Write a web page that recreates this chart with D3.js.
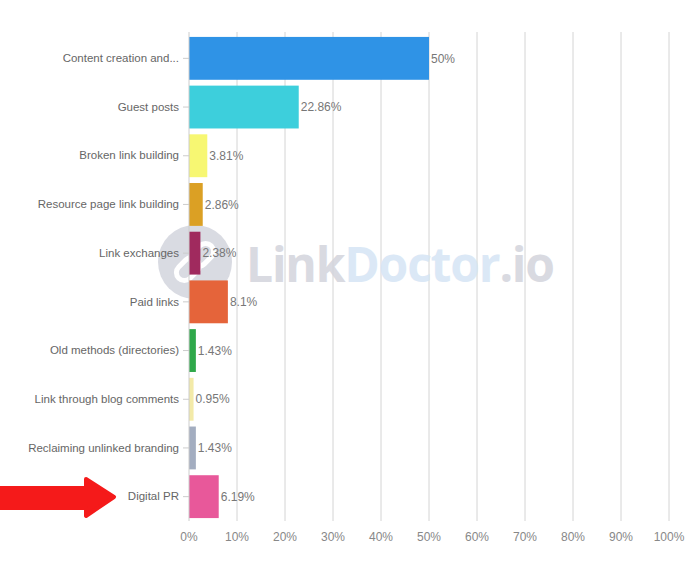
<!DOCTYPE html>
<html><head><meta charset="utf-8">
<script src="https://cdn.jsdelivr.net/npm/d3@7"></script>
<style>body{margin:0;background:#fff}svg{display:block}</style>
</head><body>
<svg id="c" width="700" height="563"></svg>
<script>
const categories = ["Content creation and...","Guest posts","Broken link building","Resource page link building","Link exchanges","Paid links","Old methods (directories)","Link through blog comments","Reclaiming unlinked branding","Digital PR"];
const values = [50,22.86,3.81,2.86,2.38,8.1,1.43,0.95,1.43,6.19];
const valueLabels = ["50%","22.86%","3.81%","2.86%","2.38%","8.1%","1.43%","0.95%","1.43%","6.19%"];
const colors = ["#2f93e6","#3dcfdc","#f7f772","#dba024","#a02a5e","#e5643a","#2fa84a","#f3eaa8","#a3adc0","#e8589a"];
const xTicks = [0,10,20,30,40,50,60,70,80,90,100];

const svg = d3.select("#c");
const font = "'Liberation Sans', Arial, sans-serif";
const x = d3.scaleLinear().domain([0,100]).range([189,669]);
const y = d3.scaleBand().domain(categories).range([34,521]).paddingInner(0.12).paddingOuter(0.06);

// gridlines
svg.append("g").selectAll("line").data(xTicks.slice(1)).join("line")
  .attr("x1",d=>x(d)).attr("x2",d=>x(d)).attr("y1",32).attr("y2",521)
  .attr("stroke","#d4d4d4").attr("stroke-width",1);

// watermark
const wm = svg.append("g").attr("opacity",0.85);
wm.append("circle").attr("cx",195).attr("cy",262).attr("r",37).attr("fill","#d3d5de");
wm.append("g").attr("transform","translate(195,262) rotate(-45)")
  .selectAll("rect").data([-10,10]).join("rect")
  .attr("x",d=>d-13).attr("y",-8).attr("width",26).attr("height",16).attr("rx",8)
  .attr("fill","none").attr("stroke","#fff").attr("stroke-width",5);
const wt = wm.append("text").attr("x",246).attr("y",282).attr("font-family","'Open Sans', sans-serif")
  .attr("font-weight",700).attr("font-size",48).attr("letter-spacing",-1.2);
wt.append("tspan").attr("fill","#d3d4dc").text("Link");
wt.append("tspan").attr("fill","#d5e5f5").text("Doctor");
wt.append("tspan").attr("fill","#d3d4dc").text(".io");

// bars
svg.append("g").selectAll("rect").data(categories).join("rect")
  .attr("x",x(0)).attr("y",d=>y(d)).attr("height",y.bandwidth())
  .attr("width",(d,i)=>x(values[i])-x(0)).attr("fill",(d,i)=>colors[i]);

// value labels
svg.append("g").selectAll("text").data(categories).join("text")
  .attr("x",(d,i)=>x(values[i])+2).attr("y",d=>y(d)+y.bandwidth()/2).attr("dy","0.35em")
  .attr("font-family",font).attr("font-size",12).attr("fill","#777").text((d,i)=>valueLabels[i]);

// y axis
const ya = svg.append("g").attr("transform",`translate(${x(0)},0)`)
  .call(d3.axisLeft(y).tickSize(6).tickPadding(4));
ya.select(".domain").attr("stroke","#ccc").attr("d",`M0,32V521`);
ya.selectAll(".tick line").attr("stroke","#ccc");
ya.selectAll(".tick text").attr("font-family",font).attr("font-size",11.5).attr("fill","#666");

// x axis labels
svg.append("g").selectAll("text").data(xTicks).join("text")
  .attr("x",d=>x(d)).attr("y",541).attr("text-anchor","middle")
  .attr("font-family",font).attr("font-size",12).attr("fill","#888").text(d=>d+"%");

// red arrow
svg.append("path")
  .attr("d","M0,488 L86,488 L86,479 L114,497 L86,516 L86,508 L0,508 Z")
  .attr("fill","#f51a1a").attr("stroke","#f51a1a").attr("stroke-width",4).attr("stroke-linejoin","round");
</script>
</body></html>
